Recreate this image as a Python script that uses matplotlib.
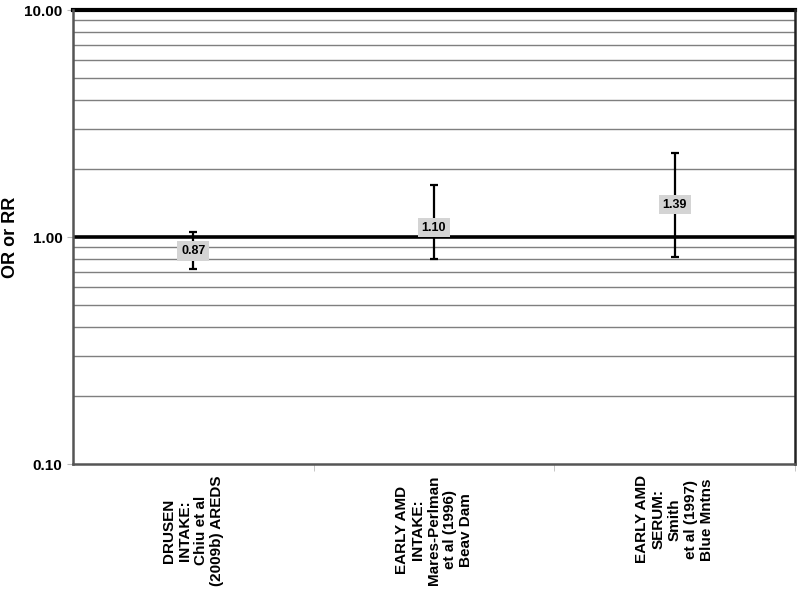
import numpy as np
import matplotlib
matplotlib.use("Agg")
import matplotlib.pyplot as plt
from matplotlib.ticker import FixedLocator, NullFormatter

plt.rcParams['font.family'] = ['Liberation Sans', 'DejaVu Sans']
plt.rcParams['font.weight'] = 'bold'

# data
categories = ["DRUSEN\nINTAKE:\nChiu et al\n(2009b) AREDS",
              "EARLY AMD\nINTAKE:\nMares-Perlman\net al (1996)\nBeav Dam",
              "EARLY AMD\nSERUM:\nSmith\net al (1997)\nBlue Mntns"]
estimate = [0.87, 1.10, 1.39]
lower = [0.72, 0.80, 0.82]
upper = [1.05, 1.69, 2.34]

fig = plt.figure(figsize=(8, 5.89), dpi=100)
ax = fig.add_axes([0.091, 0.212, 0.903, 0.771])

x = np.arange(len(categories))
est = np.array(estimate)
yerr = [est - np.array(lower), np.array(upper) - est]

ax.set_yscale('log')
ax.set_ylim(0.1, 10)
ax.set_xlim(-0.5, len(categories) - 0.5)

# horizontal grid lines
minor = [m * 10.0 ** d for d in (-1, 0) for m in range(2, 10)]
for v in minor:
    ax.axhline(v, color='#7f7f7f', lw=1.0, zorder=1)
ax.axhline(1.0, color='black', lw=2.6, zorder=2)
ax.axhline(10.0, color='black', lw=3.0, zorder=2, clip_on=False)

ax.errorbar(x, est, yerr=yerr, fmt='none', ecolor='black', elinewidth=1.6,
            capsize=3, capthick=1.6, zorder=3)

for xi, v in zip(x, estimate):
    ax.text(xi, v, f"{v:.2f}", ha='center', va='center', fontsize=9,
            fontweight='bold', zorder=4,
            bbox=dict(boxstyle='square,pad=0.3', fc='#d4d4d4', ec='none'))

ax.yaxis.set_major_locator(FixedLocator([0.1, 1, 10]))
ax.set_yticklabels(["0.10", "1.00", "10.00"], fontsize=11, fontweight='bold')
ax.yaxis.set_minor_formatter(NullFormatter())
ax.tick_params(axis='y', which='minor', length=0)
ax.tick_params(axis='y', which='major', length=4, color='#bbbbbb')

ax.set_xticks(x)
ax.set_xticklabels(categories, rotation=90, fontsize=11, fontweight='bold',
                   multialignment='center', linespacing=1.2)
ax.tick_params(axis='x', length=0, pad=8)
ax.set_xticks(np.arange(len(categories)) + 0.5, minor=True)
ax.tick_params(axis='x', which='minor', length=5, color='#bbbbbb')

ax.set_ylabel("OR or RR", fontsize=13, fontweight='bold')
ax.yaxis.set_label_coords(-0.075, 0.5)

for s in ('left', 'bottom'):
    ax.spines[s].set_color('#555555')
    ax.spines[s].set_linewidth(1.8)
ax.spines['right'].set_color('#222222')
ax.spines['right'].set_linewidth(1.8)
ax.spines['top'].set_visible(False)

fig.savefig('out.png', dpi=100)
